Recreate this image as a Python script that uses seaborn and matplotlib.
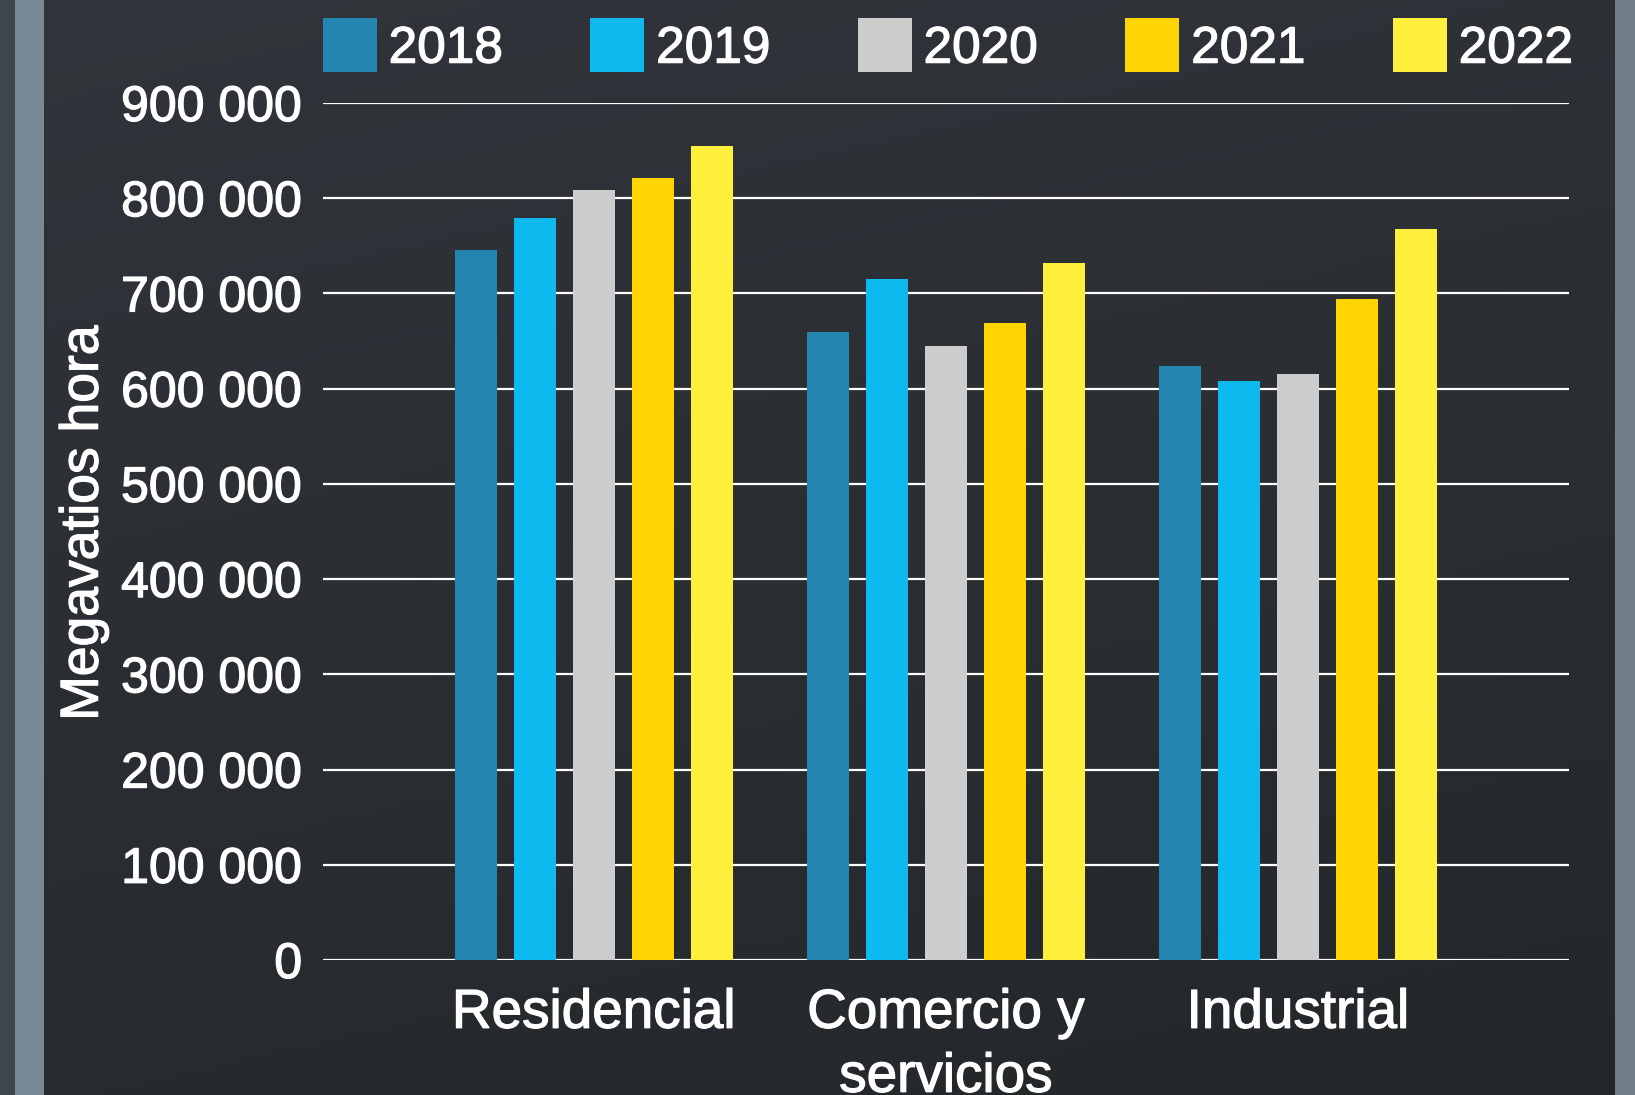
import numpy as np
import pandas as pd
import matplotlib
matplotlib.use("Agg")
import matplotlib.pyplot as plt
import matplotlib.patheffects as pe
from matplotlib.ticker import FuncFormatter
from matplotlib.patches import Rectangle
import seaborn as sns

# ------------------------------------------------------------
# Datos (MWh por sector y anio)
# ------------------------------------------------------------
sectores = ["Residencial", "Comercio y\nservicios", "Industrial"]
anios = ["2018", "2019", "2020", "2021", "2022"]
residencial = [746000, 779000, 809000, 821000, 855000]
comercio = [659000, 715000, 645000, 669000, 732000]
industrial = [624000, 608000, 615000, 694000, 768000]
colores = ["#2386b0", "#0cbaf0", "#cdcdcd", "#ffd400", "#ffef3d"]

filas = []
for sector, valores in zip(sectores, [residencial, comercio, industrial]):
    for anio, v in zip(anios, valores):
        filas.append({"sector": sector, "anio": anio, "mwh": v})
df = pd.DataFrame(filas)

sns.set_theme(style="white")
plt.rcParams["font.family"] = ["Liberation Sans", "DejaVu Sans"]
plt.rcParams["text.color"] = "white"

grueso = [pe.withStroke(linewidth=0.9, foreground="white")]  # trazo un poco mas grueso

fig = plt.figure(figsize=(16.35, 10.95), dpi=100)

# fondo con degradado oscuro
bg = fig.add_axes([0, 0, 1, 1], zorder=-10)
yy, xx = np.mgrid[0:1:200j, 0:1:200j]
top = np.array([49, 53, 59]) / 255
bot = np.array([36, 39, 42]) / 255
w = np.clip(0.75 * yy + 0.25 * xx, 0, 1)[..., None]
img = top * (1 - w) + bot * w
bg.imshow(img, extent=[0, 1, 0, 1], aspect="auto", origin="upper")
bg.add_patch(Rectangle((0, 0), 15 / 1635, 1, color="#3d454d", lw=0))
bg.add_patch(Rectangle((15 / 1635, 0), 29 / 1635, 1, color="#788995", lw=0))
bg.add_patch(Rectangle((1615 / 1635, 0), 20 / 1635, 1, color="#6f7e89", lw=0))
bg.set_xlim(0, 1)
bg.set_ylim(0, 1)
bg.axis("off")

ax = fig.add_axes([323 / 1635, 1 - 960 / 1095, 1246 / 1635, 857 / 1095])
ax.set_facecolor("none")

sns.barplot(data=df, x="sector", y="mwh", hue="anio", palette=colores,
            width=0.838, gap=0.29, saturation=1, linewidth=0, ax=ax, zorder=3)

ax.set_ylim(0, 900000)
ax.set_xlim(-0.77, 2.77)
ax.set_yticks(np.arange(0, 900001, 100000))
ax.yaxis.set_major_formatter(FuncFormatter(lambda v, p: "{:,.0f}".format(v).replace(",", " ")))
ax.grid(axis="y", color="white", linewidth=1.6, zorder=0)
ax.set_axisbelow(True)
for s in ax.spines.values():
    s.set_visible(False)
ax.tick_params(axis="y", length=0, pad=15, labelsize=36, labelcolor="white")
ax.tick_params(axis="x", length=0, pad=20, labelsize=39.5, labelcolor="white")
for t in ax.get_xticklabels():
    t.set_linespacing(1.3)
    t.set_path_effects(grueso)
for t in ax.get_yticklabels():
    t.set_path_effects(grueso)
ax.set_xlabel("")
ax.set_ylabel("Megavatios hora", fontsize=38.5, color="white", path_effects=grueso)
ax.yaxis.set_label_coords(-0.172, 0.51)

handles, labels = ax.get_legend_handles_labels()
ax.get_legend().remove()
leg = fig.legend(handles, labels, loc="center", bbox_to_anchor=(948 / 1635, 1 - 46 / 1095),
                 ncol=5, frameon=False, fontsize=37, handlelength=1.05, handleheight=1.24,
                 handletextpad=0.23, columnspacing=1.7, borderpad=0, labelcolor="white")
for t in leg.get_texts():
    t.set_path_effects(grueso)

fig.savefig("out.png", dpi=100)
